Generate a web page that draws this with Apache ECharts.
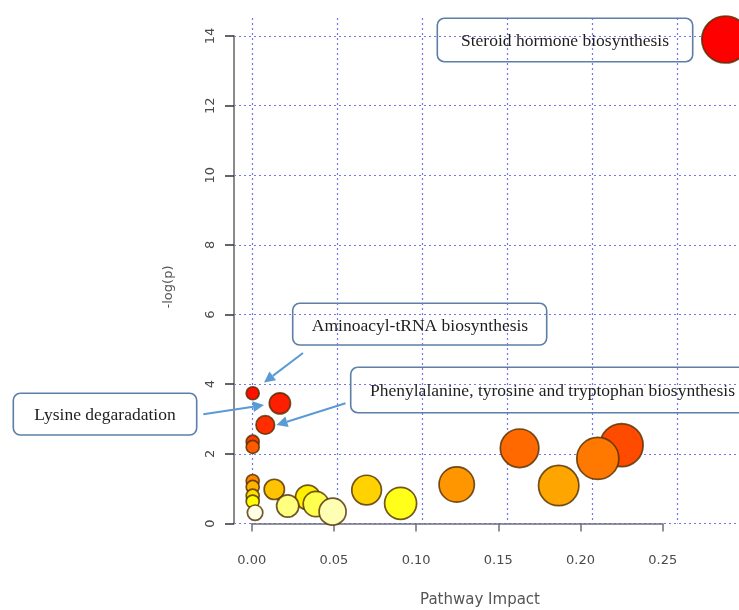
<!DOCTYPE html>
<html>
<head>
<meta charset="utf-8">
<script src="https://cdn.jsdelivr.net/npm/echarts@6/dist/echarts.min.js"></script>
<style>
  html, body { margin: 0; padding: 0; background: #fff; }
  #chart { width: 739px; height: 610px; }
</style>
</head>
<body>
<div id="chart"></div>
<script>
// Pathway analysis overview: pathway impact (x) against -log(p) (y).
// Listed from most to least significant; later circles are drawn on top.
const impact  = [0.278, 0.000, 0.016, 0.0074, 0.000, 0.217, 0.000, 0.157, 0.203, 0.000, 0.120, 0.180,
                 0.000, 0.0127, 0.067, 0.000, 0.0324, 0.000, 0.087, 0.0372, 0.0206, 0.047, 0.0014];
const negLogP = [13.9, 3.74, 3.45, 2.83, 2.35, 2.25, 2.20, 2.16, 1.87, 1.22, 1.12, 1.09,
                 1.05, 0.98, 0.96, 0.80, 0.75, 0.63, 0.58, 0.56, 0.50, 0.34, 0.31];

// Pathways that carry a call-out (index into the arrays above)
const calloutIndex = [0, 1, 2, 3];
const calloutNames = ['Steroid hormone biosynthesis', 'Aminoacyl-tRNA biosynthesis',
                      'Lysine degaradation', 'Phenylalanine, tyrosine and tryptophan biosynthesis'];

// Axis ticks
const xTickStep = 0.05, xTickMax = 0.25;
const yTickStep = 2, yTickMax = 14;
const xTitle = 'Pathway Impact';
const yTitle = '-log(p)';

// R-style heat.colors(n): red -> yellow, then yellow fading to white
function hsvToHex(h, s, v) {
  const i = Math.floor(h * 6), f = h * 6 - i;
  const p = v * (1 - s), q = v * (1 - f * s), t = v * (1 - (1 - f) * s);
  let r, g, b;
  switch (i % 6) {
    case 0: r = v; g = t; b = p; break;
    case 1: r = q; g = v; b = p; break;
    case 2: r = p; g = v; b = t; break;
    case 3: r = p; g = q; b = v; break;
    case 4: r = t; g = p; b = v; break;
    default: r = v; g = p; b = q;
  }
  const hx = c => Math.round(c * 255).toString(16).padStart(2, '0');
  return '#' + hx(r) + hx(g) + hx(b);
}
function heatColors(n) {
  const j = Math.floor(n / 4), i = n - j, out = [];
  for (let k = 0; k < i; k++) out.push(hsvToHex(i > 1 ? (k / (i - 1)) / 6 : 0, 1, 1));
  const s0 = 1 - 1 / (2 * j), s1 = 1 / (2 * j);
  for (let k = 0; k < j; k++) out.push(hsvToHex(1 / 6, j > 1 ? s0 + (s1 - s0) * k / (j - 1) : 0.5, 1));
  return out;
}

// colour by significance rank
const order = negLogP.map((v, i) => i).sort((a, b) => negLogP[b] - negLogP[a]);
const palette = heatColors(negLogP.length);
const pointColor = [];
order.forEach((idx, rank) => { pointColor[idx] = palette[rank]; });

// circle radius grows with sqrt(impact)
const maxImpact = Math.max(...impact);
const circleSize = v => 2 * (6.5 + 17 * Math.sqrt(v / maxImpact));

const points = impact.map((x, i) => [x, negLogP[i]]);

const sansFont = '"DejaVu Sans", "Liberation Sans", sans-serif';
const serifFont = '"Liberation Serif", "DejaVu Serif", serif';
const gridLineStyle = { color: '#7676ec', width: 1.2, type: [2, 3] };

// call-out boxes and arrows
const boxStroke = '#5d7fa6';
const arrowColor = '#5b9bd5';
function callout(x, y, w, h, text, tx, ty, align) {
  return [
    { type: 'rect', z: 50, shape: { x: x, y: y, width: w, height: h, r: 7 },
      style: { fill: 'none', stroke: boxStroke, lineWidth: 1.6 } },
    { type: 'text', z: 51, x: tx, y: ty,
      style: { text: text, fontFamily: serifFont, fontSize: 17.5, fill: '#1e1e1e',
               align: align || 'center', verticalAlign: 'middle' } }
  ];
}
function arrow(x1, y1, x2, y2) {
  const a = Math.atan2(y2 - y1, x2 - x1), L = 11, W = 5.5;
  const bx = x2 - L * Math.cos(a), by = y2 - L * Math.sin(a);
  return [
    { type: 'line', z: 50, shape: { x1: x1, y1: y1, x2: bx, y2: by },
      style: { stroke: arrowColor, lineWidth: 2 } },
    { type: 'polygon', z: 50,
      shape: { points: [[x2, y2], [bx + W * Math.sin(a), by - W * Math.cos(a)], [bx - W * Math.sin(a), by + W * Math.cos(a)]] },
      style: { fill: arrowColor } }
  ];
}

const chart = echarts.init(document.getElementById('chart'), null, { renderer: 'canvas' });

const option = {
  backgroundColor: '#ffffff',
  animation: false,
  grid: [
    // plotting region: points and vertical guide lines
    { left: 252.7, top: 18, width: 510, height: 505.5, containLabel: false, outerBoundsMode: 'none' },
    // left axis and horizontal guide lines
    { left: 234, top: 36, width: 505, height: 487.5, containLabel: false, outerBoundsMode: 'none' },
    // bottom axis
    { left: 251.7, top: 36, width: 411, height: 487.5, containLabel: false, outerBoundsMode: 'none' }
  ],
  xAxis: [
    { gridIndex: 0, type: 'value', min: 0, max: 0.30, interval: xTickStep,
      axisLine: { show: false }, axisTick: { show: false }, axisLabel: { show: false },
      splitLine: { show: true, lineStyle: gridLineStyle } },
    { gridIndex: 1, type: 'value', min: 0, max: 1, show: false },
    { gridIndex: 2, type: 'value', min: 0, max: xTickMax, interval: xTickStep, position: 'bottom', offset: 9.5,
      axisLine: { show: true, lineStyle: { color: '#6d6d84', width: 1.5 } },
      axisTick: { show: true, length: 8, lineStyle: { color: '#6d6d84', width: 1.5 } },
      axisLabel: { show: true, margin: 21, fontSize: 13, color: '#4a4a4a', fontFamily: sansFont,
                   formatter: v => v.toFixed(2) },
      splitLine: { show: false } }
  ],
  yAxis: [
    { gridIndex: 0, type: 'value', min: 0, max: 505.5 / 34.821, show: false },
    { gridIndex: 1, type: 'value', min: 0, max: yTickMax, interval: yTickStep, position: 'left',
      axisLine: { show: true, lineStyle: { color: '#8a8a8a', width: 2 } },
      axisTick: { show: true, length: 9, lineStyle: { color: '#333', width: 1.5 } },
      axisLabel: { show: true, rotate: 90, margin: 17, fontSize: 13, color: '#4a4a4a', fontFamily: sansFont },
      splitLine: { show: true, lineStyle: gridLineStyle } },
    { gridIndex: 2, type: 'value', min: 0, max: 1, show: false }
  ],
  series: [{
    type: 'scatter',
    xAxisIndex: 0, yAxisIndex: 0,
    clip: false,
    data: points,
    symbol: 'circle',
    symbolSize: v => circleSize(v[0]),
    itemStyle: {
      color: p => pointColor[p.dataIndex],
      borderColor: 'rgba(80,45,0,0.8)',
      borderWidth: 1.7,
      opacity: 1
    },
    emphasis: { disabled: true }
  }],
  graphic: { elements: [
    { type: 'text', x: 480, y: 600,
      style: { text: xTitle, fontFamily: sansFont, fontSize: 15, fill: '#555',
               align: 'center', verticalAlign: 'middle' } },
    { type: 'text', x: 169, y: 287, rotation: Math.PI / 2,
      style: { text: yTitle, fontFamily: sansFont, fontSize: 13, fill: '#555',
               align: 'center', verticalAlign: 'middle' } },
    ...callout(437.3, 18.3, 255.4, 43.4, calloutNames[0], 565, 41.5),
    ...callout(292.7, 303.3, 254, 41.7, calloutNames[1], 420, 326.5),
    ...callout(13.3, 393.3, 183.4, 41.7, calloutNames[2], 105, 415.5),
    ...callout(350.7, 367.3, 400, 45.4, calloutNames[3], 370, 391.5, 'left'),
    ...arrow(303, 353, 264, 382.5),
    ...arrow(203.3, 414.3, 264, 405),
    ...arrow(345.5, 403.3, 276.5, 425)
  ] }
};

chart.setOption(option);
</script>
</body>
</html>
